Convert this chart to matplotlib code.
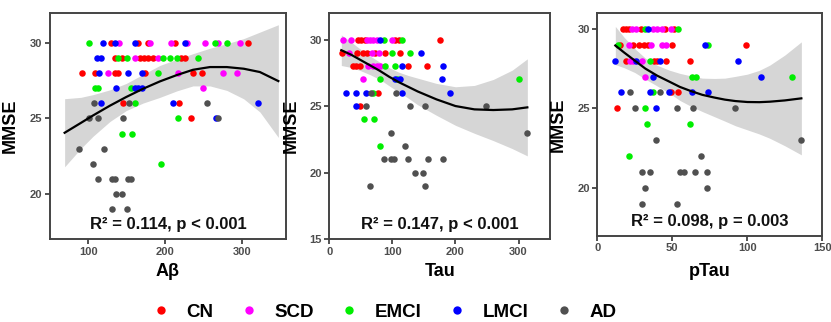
from __future__ import annotations

import matplotlib

matplotlib.use("Agg")
import matplotlib.pyplot as plt
from matplotlib.lines import Line2D

plt.rcParams["font.family"] = ["Liberation Sans", "DejaVu Sans"]
plt.rcParams["font.weight"] = "bold"

GROUPS = ["CN", "SCD", "EMCI", "LMCI", "AD"]
GROUP_COLORS = {
    "CN": "#FF0000",
    "SCD": "#FF00FF",
    "EMCI": "#00EE00",
    "LMCI": "#0000FF",
    "AD": "#505050",
}

# points: (biomarker value, MMSE, group)
AB_POINTS = [
    (101, 30, "EMCI"), (119, 30, "LMCI"), (129, 30, "CN"), (134, 30, "LMCI"), (140, 30, "SCD"),
    (160, 30, "LMCI"), (165, 30, "CN"), (177, 30, "CN"), (180, 30, "SCD"), (208, 30, "SCD"),
    (213, 30, "CN"), (226, 30, "LMCI"), (228, 30, "SCD"), (252, 30, "SCD"), (264, 30, "EMCI"),
    (268, 30, "SCD"), (280, 30, "EMCI"), (297, 30, "SCD"), (308, 30, "CN"),
    (111, 29, "LMCI"), (116, 29, "LMCI"), (134, 29, "CN"), (138, 29, "EMCI"), (144, 29, "CN"),
    (150, 29, "EMCI"), (161, 29, "SCD"), (167, 29, "CN"), (172, 29, "CN"), (177, 29, "CN"),
    (184, 29, "CN"), (190, 29, "SCD"), (197, 29, "EMCI"), (206, 29, "EMCI"), (215, 29, "EMCI"),
    (221, 29, "CN"), (226, 29, "CN"), (243, 29, "EMCI"),
    (92, 28, "CN"), (109, 28, "CN"), (114, 28, "LMCI"), (125, 28, "SCD"), (135, 28, "CN"),
    (139, 28, "CN"), (152, 28, "LMCI"), (170, 28, "LMCI"), (174, 28, "CN"), (190, 28, "EMCI"),
    (216, 28, "SCD"), (236, 28, "CN"), (248, 28, "CN"), (275, 28, "SCD"), (293, 28, "SCD"),
    (109, 27, "EMCI"), (113, 27, "EMCI"), (136, 27, "LMCI"), (155, 27, "EMCI"), (160, 27, "LMCI"),
    (165, 27, "LMCI"), (170, 27, "LMCI"), (249, 27, "SCD"),
    (107, 26, "AD"), (116, 26, "LMCI"), (145, 26, "CN"), (153, 26, "AD"), (160, 26, "EMCI"),
    (210, 26, "LMCI"), (218, 26, "CN"), (254, 26, "AD"), (320, 26, "LMCI"),
    (101, 25, "AD"), (112, 25, "AD"), (145, 25, "AD"), (216, 25, "EMCI"), (233, 25, "CN"),
    (266, 25, "LMCI"), (268, 25, "AD"),
    (143, 24, "EMCI"), (157, 24, "EMCI"),
    (88, 23, "AD"), (120, 23, "AD"),
    (106, 22, "AD"), (195, 22, "EMCI"),
    (113, 21, "AD"), (130, 21, "AD"), (135, 21, "AD"), (152, 21, "AD"), (155, 21, "AD"),
    (136, 20, "AD"), (144, 20, "AD"),
    (130, 19, "AD"), (150, 19, "AD"),
]

TAU_POINTS = [
    (22, 30, "SCD"), (35, 30, "SCD"), (46, 30, "CN"), (51, 30, "CN"), (56, 30, "CN"),
    (60, 30, "SCD"), (65, 30, "SCD"), (70, 30, "SCD"), (75, 30, "SCD"), (80, 30, "LMCI"),
    (86, 30, "EMCI"), (99, 30, "SCD"), (104, 30, "CN"), (110, 30, "CN"), (115, 30, "EMCI"),
    (176, 30, "CN"),
    (20, 29, "CN"), (31, 29, "SCD"), (44, 29, "CN"), (54, 29, "CN"), (59, 29, "CN"),
    (67, 29, "SCD"), (73, 29, "CN"), (78, 29, "SCD"), (89, 29, "CN"), (100, 29, "EMCI"),
    (112, 29, "CN"), (128, 29, "EMCI"), (146, 29, "LMCI"),
    (38, 28, "CN"), (43, 28, "CN"), (49, 28, "CN"), (62, 28, "SCD"), (70, 28, "SCD"),
    (75, 28, "SCD"), (80, 28, "SCD"), (88, 28, "EMCI"), (104, 28, "EMCI"), (116, 28, "LMCI"),
    (125, 28, "CN"), (155, 28, "CN"), (180, 28, "LMCI"),
    (53, 27, "SCD"), (80, 27, "EMCI"), (104, 27, "LMCI"), (108, 27, "EMCI"), (112, 27, "LMCI"),
    (178, 27, "LMCI"), (300, 27, "EMCI"),
    (27, 26, "LMCI"), (42, 26, "LMCI"), (58, 26, "LMCI"), (66, 26, "AD"), (70, 26, "EMCI"),
    (77, 26, "CN"), (105, 26, "AD"), (116, 26, "LMCI"), (192, 26, "LMCI"),
    (43, 25, "LMCI"), (48, 25, "CN"), (58, 25, "AD"), (128, 25, "AD"), (151, 25, "AD"),
    (249, 25, "AD"),
    (55, 24, "EMCI"), (71, 24, "EMCI"),
    (98, 23, "AD"), (314, 23, "AD"),
    (80, 22, "EMCI"), (120, 22, "AD"),
    (87, 21, "AD"), (98, 21, "AD"), (103, 21, "AD"), (124, 21, "AD"), (157, 21, "AD"),
    (180, 21, "AD"),
    (136, 20, "AD"), (148, 20, "AD"),
    (65, 19, "AD"), (151, 19, "AD"),
]

PTAU_POINTS = [
    (17, 30, "CN"), (19, 30, "CN"), (21, 30, "CN"), (23, 30, "SCD"), (26, 30, "SCD"),
    (29, 30, "CN"), (32, 30, "EMCI"), (34, 30, "LMCI"), (37, 30, "SCD"), (40, 30, "SCD"),
    (43, 30, "SCD"), (45, 30, "CN"), (49, 30, "SCD"), (51, 30, "CN"), (54, 30, "EMCI"),
    (14, 29, "EMCI"), (15, 29, "CN"), (21, 29, "SCD"), (24, 29, "CN"), (28, 29, "CN"),
    (31, 29, "CN"), (34, 29, "CN"), (36, 29, "SCD"), (43, 29, "SCD"), (46, 29, "SCD"),
    (50, 29, "CN"), (72, 29, "LMCI"), (74, 29, "EMCI"), (99, 29, "CN"),
    (12, 28, "LMCI"), (19, 28, "CN"), (22, 28, "SCD"), (24, 28, "SCD"), (26, 28, "LMCI"),
    (30, 28, "SCD"), (35, 28, "EMCI"), (38, 28, "CN"), (40, 28, "CN"), (42, 28, "LMCI"),
    (46, 28, "CN"), (62, 28, "CN"), (94, 28, "LMCI"),
    (32, 27, "SCD"), (37, 27, "LMCI"), (63, 27, "EMCI"), (66, 27, "EMCI"), (109, 27, "LMCI"),
    (130, 27, "EMCI"),
    (16, 26, "LMCI"), (22, 26, "AD"), (35, 26, "LMCI"), (37, 26, "EMCI"), (42, 26, "AD"),
    (48, 26, "LMCI"), (49, 26, "CN"), (54, 26, "CN"), (63, 26, "LMCI"), (74, 26, "LMCI"),
    (13, 25, "CN"), (25, 25, "AD"), (32, 25, "EMCI"), (39, 25, "LMCI"), (53, 25, "AD"),
    (64, 25, "AD"), (92, 25, "AD"),
    (33, 24, "EMCI"), (62, 24, "EMCI"),
    (39, 23, "AD"), (136, 23, "AD"),
    (21, 22, "EMCI"), (69, 22, "AD"),
    (30, 21, "AD"), (35, 21, "AD"), (55, 21, "AD"), (58, 21, "AD"), (65, 21, "AD"),
    (73, 21, "AD"),
    (32, 20, "AD"), (73, 20, "AD"),
    (30, 19, "AD"), (53, 19, "AD"),
]

# quadratic fit line and 95% band half-width
AB_FIT_X = [69, 90, 106, 128, 149, 171, 193, 215, 236, 258, 280, 302, 323, 347]
AB_FIT_Y = [24.05, 24.7, 25.2, 25.85, 26.42, 26.97, 27.46, 27.88, 28.23, 28.41, 28.41, 28.3, 28.08, 27.48]
AB_FIT_W = [2.26, 1.7, 1.38, 1.05, 0.9, 0.95, 1.06, 1.05, 1.07, 1.25, 1.55, 2.0, 2.65, 3.74]

TAU_FIT_X = [19, 35, 50, 65, 80, 95, 110, 125, 140, 155, 170, 200, 230, 260, 290, 314]
TAU_FIT_Y = [29.2, 28.85, 28.45, 28.05, 27.65, 27.2, 26.8, 26.45, 26.1, 25.8, 25.5, 25.0, 24.75, 24.7, 24.75, 24.9]
TAU_FIT_W = [1.15, 0.95, 0.8, 0.7, 0.65, 0.68, 0.75, 0.85, 1.0, 1.1, 1.2, 1.45, 1.8, 2.3, 2.95, 3.65]

PTAU_FIT_X = [12, 18, 25, 32, 40, 48, 55, 62, 70, 78, 85, 92, 100, 108, 115, 125, 136]
PTAU_FIT_Y = [28.95, 28.5, 28.0, 27.5, 27.05, 26.68, 26.35, 26.1, 25.85, 25.68, 25.55, 25.46, 25.4, 25.39, 25.42, 25.5, 25.63]
PTAU_FIT_W = [1.2, 0.95, 0.75, 0.66, 0.65, 0.72, 0.85, 0.95, 1.05, 1.2, 1.35, 1.55, 1.75, 2.0, 2.3, 2.85, 3.55]

R2_LABELS = [
    "R\u00b2 = 0.114, p < 0.001",
    "R\u00b2 = 0.147, p < 0.001",
    "R\u00b2 = 0.098, p = 0.003",
]


def _draw_panel(ax, points, fit_x, fit_y, fit_w, *, xlabel, label, xlim, ylim, xticks, yticks) -> None:
    lower = [y - w for y, w in zip(fit_y, fit_w)]
    upper = [y + w for y, w in zip(fit_y, fit_w)]
    ax.fill_between(fit_x, lower, upper, color="#999999", alpha=0.4, linewidth=0, zorder=1)

    for group in GROUPS:
        xs = [p[0] for p in points if p[2] == group]
        ys = [p[1] for p in points if p[2] == group]
        ax.scatter(xs, ys, s=22, color=GROUP_COLORS[group], linewidths=0, zorder=2)

    ax.plot(fit_x, fit_y, color="black", linewidth=1.6, zorder=3)

    ax.set_xlim(*xlim)
    ax.set_ylim(*ylim)
    ax.set_xticks(xticks)
    ax.set_yticks(yticks)
    ax.tick_params(
        axis="both", direction="out", length=3.5, width=1.2,
        color="#333333", labelcolor="#4D4D4D", labelsize=8, pad=2,
    )
    for lab in ax.get_xticklabels() + ax.get_yticklabels():
        lab.set_fontweight("bold")
    for spine in ax.spines.values():
        spine.set_color("#444444")
        spine.set_linewidth(1.4)

    ax.set_ylabel("MMSE", fontsize=13, fontweight="bold")
    ax.set_xlabel(xlabel, fontsize=13, fontweight="bold")
    ax.text(0.5, 0.065, label, transform=ax.transAxes, ha="center", va="center",
            fontsize=12, fontweight="bold", color="#111111", zorder=4)


def main() -> None:
    fig = plt.figure(figsize=(8.31, 3.22), dpi=100)
    ax1 = fig.add_axes([0.0602, 0.2578, 0.284, 0.7019])
    ax2 = fig.add_axes([0.3963, 0.2578, 0.2656, 0.7019])
    ax3 = fig.add_axes([0.7188, 0.268, 0.2708, 0.692])

    _draw_panel(ax1, AB_POINTS, AB_FIT_X, AB_FIT_Y, AB_FIT_W, xlabel="A\u03b2", label=R2_LABELS[0],
                xlim=(50, 357), ylim=(17, 32), xticks=[100, 200, 300], yticks=[20, 25, 30])
    _draw_panel(ax2, TAU_POINTS, TAU_FIT_X, TAU_FIT_Y, TAU_FIT_W, xlabel="Tau", label=R2_LABELS[1],
                xlim=(0, 350), ylim=(15, 32), xticks=[0, 100, 200, 300], yticks=[15, 20, 25, 30])
    _draw_panel(ax3, PTAU_POINTS, PTAU_FIT_X, PTAU_FIT_Y, PTAU_FIT_W, xlabel="pTau", label=R2_LABELS[2],
                xlim=(0, 150), ylim=(17, 31), xticks=[0, 50, 100, 150], yticks=[20, 25, 30])

    ax1.yaxis.set_label_coords(-0.131, 0.5)
    ax2.yaxis.set_label_coords(-0.133, 0.5)
    ax3.yaxis.set_label_coords(-0.135, 0.5)
    ax1.xaxis.set_label_coords(0.5, -0.106)
    ax2.xaxis.set_label_coords(0.5, -0.106)
    ax3.xaxis.set_label_coords(0.5, -0.123)

    handles = [
        Line2D([], [], linestyle="none", marker="o", markersize=6,
               markerfacecolor=GROUP_COLORS[g], markeredgewidth=0)
        for g in GROUPS
    ]
    fig.legend(
        handles, GROUPS, loc="center", bbox_to_anchor=(0.465, 0.031), ncol=5,
        frameon=False, handlelength=0.5, handletextpad=1.1, columnspacing=1.65,
        prop={"size": 13.5, "weight": "bold"},
    )

    fig.savefig("out.png", dpi=100)
    plt.close(fig)


if __name__ == "__main__":
    main()
